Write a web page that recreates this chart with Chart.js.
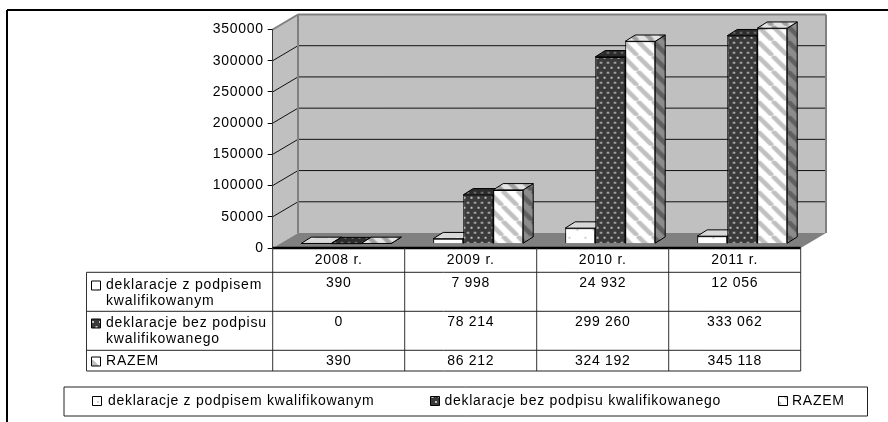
<!DOCTYPE html>
<html>
<head>
<meta charset="utf-8">
<style>
  html, body { margin: 0; padding: 0; background: #fff; }
  #wrap { position: relative; width: 888px; height: 422px; }
</style>
<script src="https://cdn.jsdelivr.net/npm/chart.js@4"></script>
</head>
<body>
<div id="wrap"><canvas id="myChart" width="888" height="422"></canvas></div>
<script>
var categories = ['2008 r.', '2009 r.', '2010 r.', '2011 r.'];
var seriesNames = ['deklaracje z podpisem kwalifikowanym', 'deklaracje bez podpisu kwalifikowanego', 'RAZEM'];
var rowLabels = [
    ['deklaracje z podpisem', 'kwalifikowanym'],
    ['deklaracje bez podpisu', 'kwalifikowanego'],
    ['RAZEM']
];
var zPodpisem = [390, 7998, 24932, 12056];
var bezPodpisu = [0, 78214, 299260, 333062];
var razem = [390, 86212, 324192, 345118];
var tickStep = 50000;
var tickMax = 350000;

var FONT = '14px "Liberation Sans", Arial, sans-serif';
var BACK = { x: 25.3, y: -15 };      // przesuniecie tylnej sciany
var BAR_SHIFT = { x: 7.5, y: -4.3 }; // slupki stoja na podlodze, nie na osi
var DEPTH = { x: 10, y: -6.3 };      // glebokosc slupka

function makePattern(w, h, draw) {
    var c = document.createElement('canvas');
    c.width = w;
    c.height = h;
    draw(c.getContext('2d'), w, h);
    return c.getContext('2d').createPattern(c, 'repeat');
}

function dots(bg, fg, w, h, r) {
    return makePattern(w, h, function (g, cw, ch) {
        g.fillStyle = bg;
        g.fillRect(0, 0, cw, ch);
        g.fillStyle = fg;
        g.fillRect(1, 1, r, r);
        g.fillRect(1 + cw / 2, 1 + ch / 2, r, r);
    });
}

function stripes(bg, fg, size, w) {
    return makePattern(size, size, function (g, s) {
        g.fillStyle = bg;
        g.fillRect(0, 0, s, s);
        g.strokeStyle = fg;
        g.lineWidth = w;
        for (var i = -1; i <= 1; i++) {
            g.beginPath();
            g.moveTo(i * s, 0);
            g.lineTo(i * s + s, s);
            g.stroke();
        }
    });
}

var fronts = [dots('#ffffff', '#d0d0d0', 16, 16, 2), dots('#3a3a3a', '#c4c4c4', 7, 10, 2), stripes('#ffffff', '#c0c0c0', 15, 4.5)];
var tops = [dots('#d8d8d8', '#efefef', 16, 16, 2), dots('#2c2c2c', '#808080', 7, 10, 2), stripes('#e4e4e4', '#a0a0a0', 15, 4.5)];
var sides = [dots('#909090', '#707070', 16, 16, 2), dots('#222222', '#707070', 7, 10, 2), stripes('#8c8c8c', '#606060', 15, 4.5)];

function poly(ctx, pts, fill, stroke, lw) {
    ctx.beginPath();
    ctx.moveTo(pts[0][0], pts[0][1]);
    for (var i = 1; i < pts.length; i++) ctx.lineTo(pts[i][0], pts[i][1]);
    ctx.closePath();
    if (fill) {
        ctx.fillStyle = fill;
        ctx.fill();
    }
    if (stroke) {
        ctx.strokeStyle = stroke;
        ctx.lineWidth = lw || 1;
        ctx.stroke();
    }
}

function line(ctx, x1, y1, x2, y2, color, lw) {
    ctx.beginPath();
    ctx.moveTo(x1, y1);
    ctx.lineTo(x2, y2);
    ctx.strokeStyle = color;
    ctx.lineWidth = lw || 1;
    ctx.stroke();
}

function fmt(v) {
    return String(v).replace(/\B(?=(\d{3})+$)/g, ' ');
}

// sciany, podloga i siatka 3D
var wallsPlugin = {
    id: 'walls',
    beforeDraw: function (chart) {
        chart.ctx.letterSpacing = '0.7px'; // etykiety osi sa szersze niz zwykly Arial
    },
    beforeDatasetsDraw: function (chart) {
        var ctx = chart.ctx, a = chart.chartArea, y = chart.scales.y;
        var y0 = y.getPixelForValue(0), yTop = y.getPixelForValue(tickMax);
        var bx = a.left + BACK.x, rx = a.right + BACK.x;
        ctx.save();
        poly(ctx, [[bx, yTop + BACK.y], [rx, yTop + BACK.y], [rx, y0 + BACK.y], [bx, y0 + BACK.y]], '#c0c0c0');
        poly(ctx, [[a.left, yTop], [bx, yTop + BACK.y], [bx, y0 + BACK.y], [a.left, y0]], '#c0c0c0');
        for (var v = tickStep; v < tickMax; v += tickStep) {
            var p = y.getPixelForValue(v);
            line(ctx, a.left, p, bx, p + BACK.y, '#111');
            line(ctx, bx, p + BACK.y, rx, p + BACK.y, '#111');
        }
        poly(ctx, [[a.left, y0], [bx, y0 + BACK.y], [rx, y0 + BACK.y], [a.right, y0]], '#808080');
        line(ctx, a.left, yTop, bx, yTop + BACK.y, '#808080', 2);
        line(ctx, bx, yTop + BACK.y, rx, yTop + BACK.y, '#808080', 2);
        line(ctx, rx, yTop + BACK.y, rx, y0 + BACK.y, '#808080', 2);
        line(ctx, bx, yTop + BACK.y, bx, y0 + BACK.y, '#808080', 2);
        ctx.restore();

        // boki i wierzch slupkow, front rysuje Chart.js
        ctx.save();
        ctx.translate(BAR_SHIFT.x, BAR_SHIFT.y);
        chart.data.datasets.forEach(function (ds, i) {
            chart.getDatasetMeta(i).data.forEach(function (bar) {
                var l = bar.x - bar.width / 2, r = bar.x + bar.width / 2;
                poly(ctx, [[r, bar.y], [r + DEPTH.x, bar.y + DEPTH.y], [r + DEPTH.x, bar.base + DEPTH.y], [r, bar.base]], sides[i], '#000');
                poly(ctx, [[l, bar.y], [l + DEPTH.x, bar.y + DEPTH.y], [r + DEPTH.x, bar.y + DEPTH.y], [r, bar.y]], tops[i], '#000');
            });
        });
    },
    afterDatasetsDraw: function (chart) {
        chart.ctx.restore();
    }
};

// tabela danych, legenda i ramka
var tablePlugin = {
    id: 'dataTable',
    afterDraw: function (chart) {
        var ctx = chart.ctx, a = chart.chartArea, x = chart.scales.x;
        var rows = [272.3, 311.3, 350.3, 371];
        var tableLeft = 86.5;
        var step = (a.right - a.left) / categories.length;
        var values = [zPodpisem, bezPodpisu, razem];
        var i, j;
        ctx.save();

        line(ctx, 7, 10, 888, 10, '#000', 2);
        line(ctx, 7, 10, 7, 422, '#000', 2);

        line(ctx, a.left, a.bottom, a.right, a.bottom, '#000', 2.5);
        for (j = 0; j <= categories.length; j++) {
            var vx = a.left + j * step;
            line(ctx, vx, a.bottom, vx, rows[3], '#333');
        }
        for (i = 0; i < rows.length; i++) {
            line(ctx, tableLeft, rows[i], a.right, rows[i], '#222');
        }
        line(ctx, tableLeft, rows[0], tableLeft, rows[3], '#333');

        ctx.font = FONT;
        ctx.textBaseline = 'middle';
        ctx.letterSpacing = '0.7px';

        var textY = [[285.5, 301], [323.5, 339], [361.5]];
        var valueY = [283.5, 322.5, 361];
        for (i = 0; i < 3; i++) {
            poly(ctx, [[91.5, textY[i][0] - 4.5], [100.5, textY[i][0] - 4.5], [100.5, textY[i][0] + 4.5], [91.5, textY[i][0] + 4.5]], fronts[i], '#000');
            ctx.fillStyle = '#000';
            ctx.textAlign = 'left';
            ctx.letterSpacing = '0.8px';
            rowLabels[i].forEach(function (t, k) {
                ctx.fillText(t, 106, textY[i][k]);
            });
            ctx.textAlign = 'center';
            ctx.letterSpacing = '0.7px';
            for (j = 0; j < categories.length; j++) {
                ctx.fillText(fmt(values[i][j]), x.getPixelForTick(j), valueY[i]);
            }
        }

        poly(ctx, [[64, 387], [867.5, 387], [867.5, 416], [64, 416]], null, '#222');
        var legendX = [[92.5, 108], [430.5, 444.5], [778.5, 792]];
        ctx.textAlign = 'left';
        ctx.letterSpacing = '0.72px';
        for (i = 0; i < 3; i++) {
            poly(ctx, [[legendX[i][0], 396.5], [legendX[i][0] + 9, 396.5], [legendX[i][0] + 9, 405.5], [legendX[i][0], 405.5]], fronts[i], '#000');
            ctx.fillStyle = '#000';
            ctx.fillText(seriesNames[i], legendX[i][1], 401.5);
        }
        ctx.restore();
    }
};

function dataset(i, values) {
    return {
        label: seriesNames[i],
        data: values,
        backgroundColor: fronts[i],
        borderColor: '#000',
        borderWidth: 1,
        clip: false
    };
}

var ctx = document.getElementById('myChart').getContext('2d');
var myChart = new Chart(ctx, {
    type: 'bar',
    data: {
        labels: categories,
        datasets: [dataset(0, zPodpisem), dataset(1, bezPodpisu), dataset(2, razem)]
    },
    options: {
        responsive: false,
        animation: false,
        layout: { padding: { left: 0, right: 87.3, top: 29.5, bottom: 0 } },
        plugins: {
            legend: { display: false },
            tooltip: { enabled: false }
        },
        datasets: {
            bar: { categoryPercentage: 0.682, barPercentage: 1 }
        },
        scales: {
            x: {
                afterFit: function (scale) { scale.height = 174; },
                grid: { display: false, drawTicks: false },
                border: { display: false },
                ticks: { color: '#000', font: { family: '"Liberation Sans"', size: 14 }, padding: 4, maxRotation: 0 }
            },
            y: {
                min: 0,
                max: tickMax,
                afterFit: function (scale) { scale.width = 272.7; },
                grid: { drawOnChartArea: false, tickLength: 5, color: '#000' },
                border: { color: '#000' },
                ticks: { stepSize: tickStep, color: '#000', font: { family: '"Liberation Sans"', size: 14 }, padding: 4, callback: function (v) { return String(v); } }
            }
        }
    },
    plugins: [wallsPlugin, tablePlugin]
});
</script>
</body>
</html>
